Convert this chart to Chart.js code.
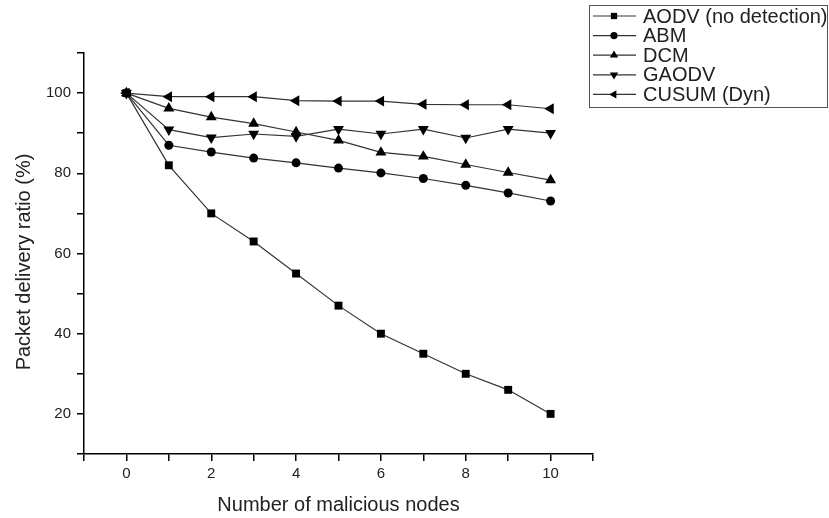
<!DOCTYPE html>
<html>
<head>
<meta charset="utf-8">
<script src="https://cdn.jsdelivr.net/npm/chart.js@4/dist/chart.umd.min.js"></script>
<style>
  html, body { margin: 0; padding: 0; background: #fff; }
  #wrap { width: 829px; height: 518px; }
</style>
</head>
<body>
<div id="wrap"><canvas id="pdrChart" width="829" height="518"></canvas></div>
<script>
const nodes = [0, 1, 2, 3, 4, 5, 6, 7, 8, 9, 10];
const aodv = [100, 82, 70, 63, 55, 47, 40, 35, 30, 26, 20];
const abm = [100, 87, 85.3, 83.8, 82.6, 81.3, 80.1, 78.7, 77, 75.1, 73.1];
const dcm = [100, 96.2, 94, 92.4, 90.3, 88.2, 85.2, 84.2, 82.2, 80.2, 78.3];
const gaodv = [100, 90.9, 88.9, 89.8, 89.2, 91, 89.8, 91, 88.8, 91, 90];
const cusum = [100, 99.1, 99.1, 99.1, 98.1, 98, 98, 97.2, 97.1, 97.1, 96.1];
const seriesNames = ['AODV (no detection)', 'ABM', 'DCM', 'GAODV', 'CUSUM (Dyn)'];
const yTicks = [20, 40, 60, 80, 100];
const xTicks = [0, 2, 4, 6, 8, 10];
const yTitle = 'Packet delivery ratio (%)';
const xTitle = 'Number of malicious nodes';

const FONT = '"Liberation Sans", Arial, sans-serif';

// marker shape for each series, in legend order
const markers = [
  { pointStyle: 'rect', radius: 5.6, rotation: 0, legendRadius: 4.4 },
  { pointStyle: 'circle', radius: 4.5, rotation: 0, legendRadius: 3.6 },
  { pointStyle: 'triangle', radius: 6.3, rotation: 0, legendRadius: 4.8 },
  { pointStyle: 'triangle', radius: 6.3, rotation: 180, legendRadius: 4.8 },
  { pointStyle: 'triangle', radius: 6.3, rotation: 270, legendRadius: 4.8 }
];

const allValues = [aodv, abm, dcm, gaodv, cusum];

const datasets = allValues.map((vals, i) => ({
  label: seriesNames[i],
  data: nodes.map((n, j) => ({ x: n, y: vals[j] })),
  borderColor: '#333',
  borderWidth: 1.2,
  pointBackgroundColor: '#000',
  pointBorderColor: '#000',
  pointBorderWidth: 0,
  pointStyle: markers[i].pointStyle,
  pointRotation: markers[i].rotation,
  pointRadius: markers[i].radius,
  pointHoverRadius: markers[i].radius,
  tension: 0,
  fill: false
}));

// boxed legend in the top right corner, plus the rotated y title
const extras = {
  id: 'extras',
  afterDraw(chart) {
    const ctx = chart.ctx;
    ctx.save();
    ctx.strokeStyle = '#555';
    ctx.lineWidth = 1;
    ctx.strokeRect(589.5, 5.5, 238, 102);
    ctx.font = '20px ' + FONT;
    ctx.textBaseline = 'middle';
    ctx.textAlign = 'left';
    seriesNames.forEach((name, i) => {
      const y = 16 + i * 19.6;
      ctx.strokeStyle = '#333';
      ctx.lineWidth = 1.2;
      ctx.beginPath();
      ctx.moveTo(593, y);
      ctx.lineTo(636, y);
      ctx.stroke();
      ctx.fillStyle = '#000';
      Chart.helpers.drawPoint(ctx, {
        pointStyle: markers[i].pointStyle,
        radius: markers[i].legendRadius,
        rotation: markers[i].rotation,
        borderWidth: 0
      }, 614, y);
      ctx.fillStyle = '#222';
      ctx.fillText(name, 643, y + 1);
    });

    ctx.translate(24, 262);
    ctx.rotate(-Math.PI / 2);
    ctx.textAlign = 'center';
    ctx.fillStyle = '#222';
    ctx.fillText(yTitle, 0, 0);
    ctx.restore();
  }
};

new Chart(document.getElementById('pdrChart'), {
  type: 'line',
  data: { datasets: datasets },
  options: {
    responsive: false,
    animation: false,
    layout: { padding: { left: 0, top: 53, right: 236, bottom: 0 } },
    plugins: {
      legend: { display: false },
      tooltip: { enabled: false }
    },
    scales: {
      x: {
        type: 'linear',
        min: -1,
        max: 11,
        afterFit(scale) { scale.height = 64; },
        afterBuildTicks(scale) {
          const t = [];
          for (let v = -1; v <= 11; v++) t.push({ value: v });
          scale.ticks = t;
        },
        ticks: {
          color: '#222',
          font: { family: FONT, size: 15 },
          padding: 4,
          maxRotation: 0,
          autoSkip: false,
          callback: (v) => (xTicks.includes(v) ? String(v) : '')
        },
        grid: { drawOnChartArea: false, drawTicks: true, tickLength: 7, color: '#000', lineWidth: 1.5 },
        border: { display: true, color: '#000', width: 1.5 },
        title: {
          display: true,
          text: xTitle,
          color: '#222',
          font: { family: FONT, size: 20 },
          padding: { top: 0, bottom: 1 }
        }
      },
      y: {
        min: 10,
        max: 110,
        afterFit(scale) { scale.width = 84; },
        afterBuildTicks(scale) {
          const t = [];
          for (let v = 10; v <= 110; v += 10) t.push({ value: v });
          scale.ticks = t;
        },
        ticks: {
          color: '#222',
          font: { family: FONT, size: 15 },
          padding: 6,
          autoSkip: false,
          callback: (v) => (yTicks.includes(v) ? String(v) : '')
        },
        grid: { drawOnChartArea: false, drawTicks: true, tickLength: 7, color: '#000', lineWidth: 1.5 },
        border: { display: true, color: '#000', width: 1.5 }
      }
    }
  },
  plugins: [extras]
});
</script>
</body>
</html>
